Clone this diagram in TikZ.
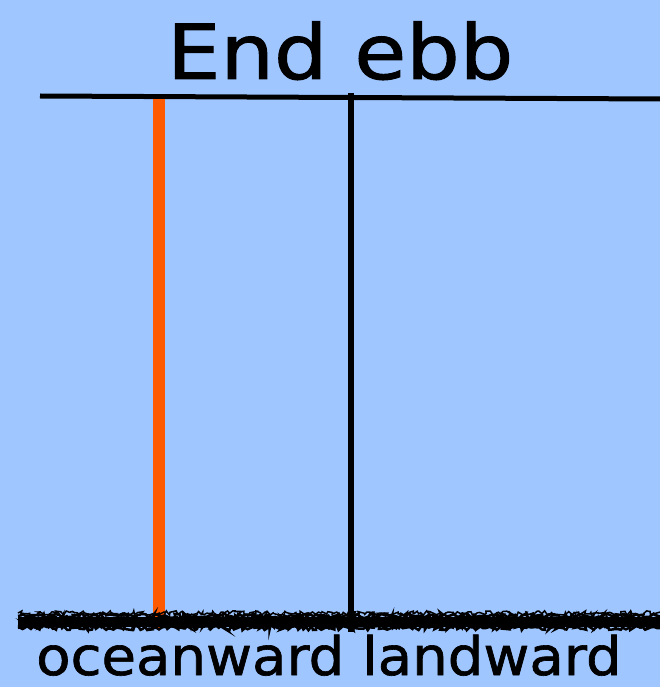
\documentclass[tikz,border=0pt]{standalone}
\usepackage{fontspec}
\setmainfont{DejaVu Sans}
\newfontfamily\handface[FakeBold=1.2]{DejaVu Sans}
\usetikzlibrary{decorations.pathmorphing}
\definecolor{sky}{HTML}{A0C6FF}
\definecolor{ebbline}{HTML}{FF5A00}
\tikzset{
  rule/.style={line width=5pt, black},
  marker/.style={line width=12pt, ebbline},
  post/.style={line width=5.5pt, black},
  rough/.style={black, line width=#1, decorate,
    decoration={random steps, segment length=2pt, amplitude=2.2pt}},
  label/.style={inner sep=0pt, anchor=base west, text depth=0pt}
}
\begin{document}
\begin{tikzpicture}[x=1pt, y=-1pt]
  \pgfmathsetseed{7}
  % background
  \fill[sky] (0,0) rectangle (660,687);
  \useasboundingbox (0,0) rectangle (660,687);

  % title
  \node[label, font=\handface\fontsize{76}{80}\selectfont, xscale=1.11] (title) at (167,79) {End ebb};

  % horizontal top rule
  \coordinate (topL) at (40,96);
  \coordinate (topR) at (660,99);
  \draw[rule] (topL) -- (topR);

  % orange marker
  \coordinate (mTop) at (158.5,99);
  \coordinate (mBot) at (158.5,628);
  \draw[marker] (mTop) -- (mBot);

  % black post
  \coordinate (pTop) at (351,93);
  \coordinate (pBot) at (351,632);
  \draw[post] (pTop) -- (pBot);

  % rough ground line
  \coordinate (gL) at (18,622);
  \coordinate (gR) at (660,622);
  \draw[black, line width=10pt] (gL) -- (gR);
  \foreach \dy/\w in {-6/2.5pt, -3/2.5pt, 3/2.5pt, 6/2.5pt, 9/1.5pt} {
    \draw[rough=\w] ([yshift=\dy pt]gL) -- ([yshift=\dy pt]gR);
  }

  % bottom labels
  \node[label, font=\handface\fontsize{53}{60}\selectfont, xscale=1.06] (sides) at (36,675) {oceanward landward};
\end{tikzpicture}
\end{document}
